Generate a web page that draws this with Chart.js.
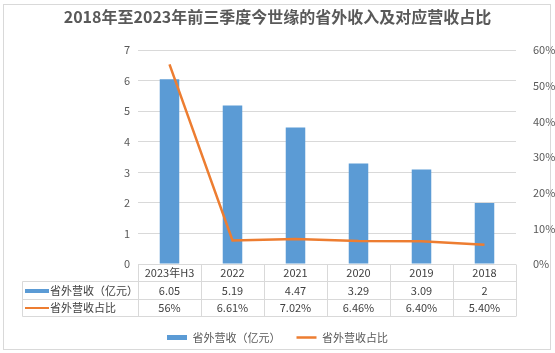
<!DOCTYPE html>
<html>
<head>
<meta charset="utf-8">
<script src="https://cdn.jsdelivr.net/npm/chart.js@4"></script>
<style>
  body { margin: 0; background: #fff; }
  #wrap { width: 555px; height: 353px; }
</style>
</head>
<body>
<div id="wrap"><canvas id="Sales-Chart"></canvas></div>
<script>
const labels = ["2023年H3", "2022", "2021", "2020", "2019", "2018"];
const revenue = [6.05, 5.19, 4.47, 3.29, 3.09, 2];
const share = [56, 6.61, 7.02, 6.46, 6.40, 5.40];
const shareText = ["56%", "6.61%", "7.02%", "6.46%", "6.40%", "5.40%"];

const font = "'Noto Sans CJK SC', 'Noto Sans', sans-serif";
const blue = "#5B9BD5";
const orange = "#ED7D31";
const gridColor = "#d9d9d9";
const textColor = "#404040";

// white background + thin frame round the whole chart
const framePlugin = {
  id: "frame",
  beforeDraw(chart) {
    const ctx = chart.ctx;
    ctx.save();
    ctx.fillStyle = "#fff";
    ctx.fillRect(0, 0, chart.width, chart.height);
    ctx.strokeStyle = gridColor;
    ctx.lineWidth = 1;
    ctx.strokeRect(3.5, 4.5, 547, 345);
    ctx.restore();
  }
};

// data table under the plot, columns follow the x scale
const tablePlugin = {
  id: "dataTable",
  afterDraw(chart) {
    const ctx = chart.ctx;
    const area = chart.chartArea;
    const x = chart.scales.x;
    const colW = (area.right - area.left) / labels.length;
    const rowH = 17.3;
    const r0 = Math.round(area.bottom) + 0.5;
    const rows = [r0, r0 + rowH, r0 + rowH * 2, r0 + rowH * 3].map(v => Math.round(v - 0.5) + 0.5);
    const tableLeft = 22.5;

    ctx.save();
    ctx.strokeStyle = gridColor;
    ctx.lineWidth = 1;
    ctx.beginPath();
    ctx.moveTo(area.left, rows[0]);
    ctx.lineTo(area.right, rows[0]);
    for (let i = 1; i < 4; i++) {
      ctx.moveTo(tableLeft, rows[i]);
      ctx.lineTo(area.right, rows[i]);
    }
    ctx.moveTo(tableLeft, rows[1]);
    ctx.lineTo(tableLeft, rows[3]);
    for (let i = 0; i <= labels.length; i++) {
      const cx = Math.round(area.left + i * colW) + 0.5;
      ctx.moveTo(cx, rows[0]);
      ctx.lineTo(cx, rows[3]);
    }
    ctx.stroke();

    ctx.font = "11px " + font;
    ctx.fillStyle = textColor;
    ctx.textAlign = "center";
    ctx.textBaseline = "middle";
    labels.forEach((lab, i) => {
      const cx = x.getPixelForValue(i);
      ctx.fillText(lab, cx, (rows[0] + rows[1]) / 2);
      ctx.fillText(String(revenue[i]), cx, (rows[1] + rows[2]) / 2);
      ctx.fillText(shareText[i], cx, (rows[2] + rows[3]) / 2);
    });

    // row headers with their keys
    const ds = chart.data.datasets;
    const y1 = (rows[1] + rows[2]) / 2;
    const y2 = (rows[2] + rows[3]) / 2;
    ctx.fillStyle = blue;
    ctx.fillRect(25, Math.round(y1) - 2, 24, 4);
    ctx.strokeStyle = orange;
    ctx.lineWidth = 2;
    ctx.beginPath();
    ctx.moveTo(25, y2);
    ctx.lineTo(49, y2);
    ctx.stroke();
    ctx.fillStyle = textColor;
    ctx.textAlign = "left";
    ctx.fillText(ds[0].label, 50, y1);
    ctx.fillText(ds[1].label, 50, y2);
    ctx.restore();
  }
};

const data = {
  labels: labels,
  datasets: [
    {
      type: "bar",
      label: "省外营收（亿元）",
      data: revenue,
      backgroundColor: blue,
      yAxisID: "y",
      barPercentage: 0.31,
      categoryPercentage: 1,
      order: 1
    },
    {
      type: "line",
      label: "省外营收占比",
      data: share,
      borderColor: orange,
      borderWidth: 2.5,
      pointRadius: 0,
      yAxisID: "y1",
      order: 0
    }
  ]
};

const config = {
  type: "bar",
  data: data,
  plugins: [framePlugin, tablePlugin],
  options: {
    responsive: true,
    maintainAspectRatio: false,
    animation: false,
    layout: { padding: { left: 0, right: 0, top: 0, bottom: 0 } },
    plugins: {
      title: {
        display: true,
        text: "2018年至2023年前三季度今世缘的省外收入及对应营收占比",
        color: "#595959",
        font: { size: 16, weight: "bold", family: font },
        padding: { top: 7, bottom: 24 }
      },
      legend: {
        position: "bottom",
        labels: {
          color: "#595959",
          font: { size: 11, family: font },
          usePointStyle: true,
          pointStyleWidth: 20,
          boxHeight: 5,
          padding: 16,
          generateLabels: (chart) => chart.data.datasets.map((ds, i) => ({
            text: ds.label,
            datasetIndex: i,
            fillStyle: ds.type === "bar" ? blue : orange,
            strokeStyle: ds.type === "bar" ? blue : orange,
            lineWidth: ds.type === "bar" ? 0 : 2.5,
            pointStyle: ds.type === "bar" ? "rect" : "line",
            fontColor: "#595959",
            hidden: false
          }))
        }
      },
      tooltip: { enabled: false }
    },
    scales: {
      x: {
        grid: { display: false },
        border: { display: false },
        ticks: { display: false },
        afterFit: (s) => { s.height = 52; }
      },
      y: {
        position: "left",
        min: 0,
        max: 7,
        ticks: { stepSize: 1, color: "#595959", padding: 8, font: { size: 11, family: font } },
        grid: { color: gridColor, drawTicks: false },
        border: { display: false },
        afterFit: (s) => { s.width = 138; }
      },
      y1: {
        position: "right",
        min: 0,
        max: 60,
        ticks: { stepSize: 10, color: "#595959", padding: 9, font: { size: 11, family: font }, callback: (v) => v + "%" },
        grid: { display: false },
        border: { display: false },
        afterFit: (s) => { s.width = 39; }
      }
    }
  }
};

let myChart = new Chart(document.getElementById("Sales-Chart"), config);
</script>
</body>
</html>
